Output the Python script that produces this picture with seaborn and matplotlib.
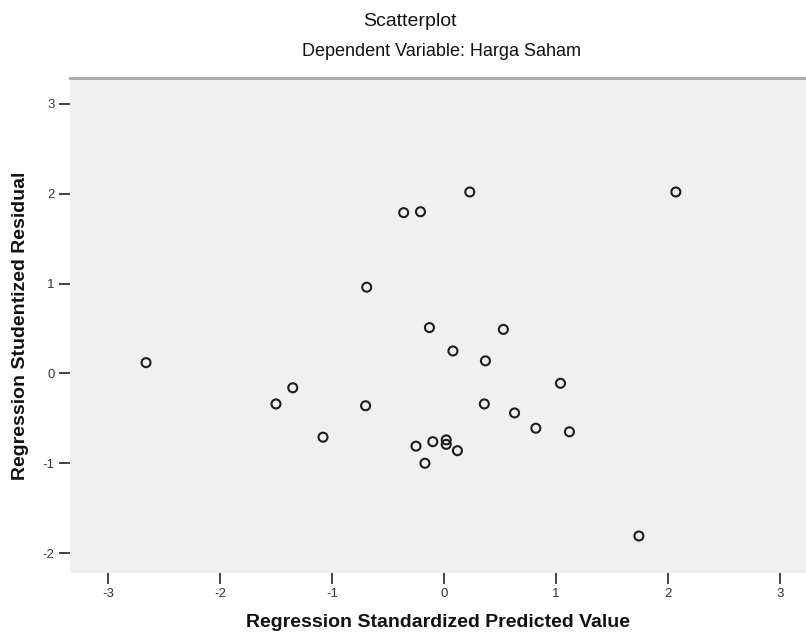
import matplotlib
matplotlib.use("Agg")
import matplotlib.pyplot as plt
import seaborn as sns
import pandas as pd

# Data
predicted = [0.23, -0.36, -0.21, 2.07, -0.69, -0.13, 0.53, 0.08, 0.37, -2.66,
             1.04, -1.35, -1.50, -0.70, 0.36, 0.63, 0.82, 1.12, -1.08, -0.25,
             -0.10, 0.02, 0.02, 0.12, -0.17, 1.74]
residual = [2.02, 1.79, 1.80, 2.02, 0.96, 0.51, 0.49, 0.25, 0.14, 0.12,
            -0.11, -0.16, -0.34, -0.36, -0.34, -0.44, -0.61, -0.65, -0.71, -0.81,
            -0.76, -0.74, -0.79, -0.86, -1.00, -1.81]
x_ticks = [-3, -2, -1, 0, 1, 2, 3]
y_ticks = [-2, -1, 0, 1, 2, 3]

title = "Scatterplot"
subtitle = "Dependent Variable: Harga Saham"
x_label = "Regression Standardized Predicted Value"
y_label = "Regression Studentized Residual"

df = pd.DataFrame({"pred": predicted, "resid": residual})

sns.set_theme(style="white")
plt.rcParams["font.family"] = ["Liberation Sans", "DejaVu Sans"]

W, H = 806, 641
fig = plt.figure(figsize=(W / 100, H / 100), dpi=100)
fig.patch.set_facecolor("white")
ax = fig.add_axes([70 / W, 1 - 573 / H, (W - 70) / W, (573 - 78) / H])
ax.set_facecolor("#f0f0f0")

sns.scatterplot(data=df, x="pred", y="resid", ax=ax, marker="o", s=42,
                facecolor="none", edgecolor="#1e1e1e", linewidth=1.5, legend=False)

ax.set_xlim(-3.339, 3.232)
ax.set_ylim(-2.222, 3.289)
ax.set_xticks(x_ticks)
ax.set_yticks(y_ticks)
ax.set_xticklabels([str(v) for v in x_ticks])
ax.set_yticklabels([str(v) for v in y_ticks])
ax.tick_params(axis="both", which="major", direction="out", length=8, width=1.2,
               color="#222222", labelsize=9.5, labelcolor="#333333", pad=3,
               bottom=True, left=True)

for side in ["left", "right", "bottom"]:
    ax.spines[side].set_visible(False)
ax.spines["top"].set_visible(True)
ax.spines["top"].set_color("#a8a8a8")
ax.spines["top"].set_linewidth(2)

ax.set_xlabel(x_label, fontsize=14, fontweight="bold", color="#111111", labelpad=10)
ax.set_ylabel(y_label, fontsize=14, fontweight="bold", color="#111111", labelpad=10)

fig.text(410 / W, 1 - 22 / H, title, ha="center", va="center", fontsize=14, color="#111111")
fig.text(442 / W, 1 - 52 / H, subtitle, ha="center", va="center", fontsize=13, color="#111111")

fig.savefig("out.png", dpi=100, facecolor="white")
